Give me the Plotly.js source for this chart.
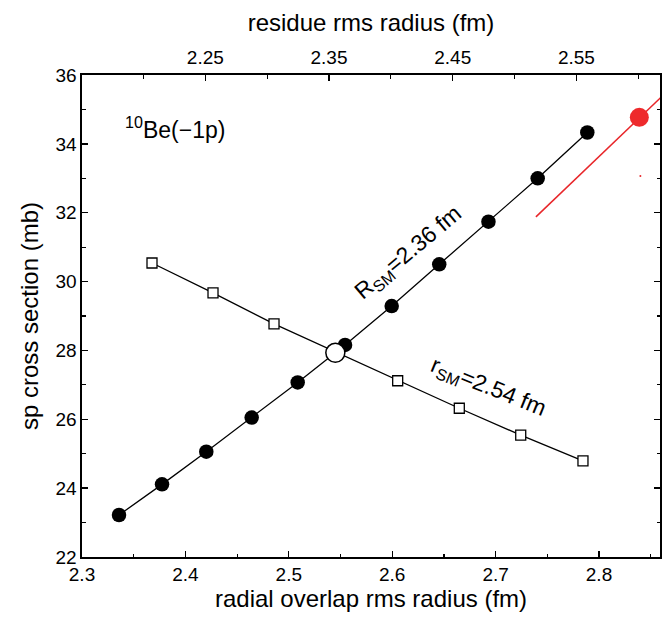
<!DOCTYPE html>
<html>
<head>
<meta charset="utf-8">
<script src="https://cdn.plot.ly/plotly-3.0.1.min.js"></script>
<style>html,body{margin:0;padding:0;background:#fff;}#chart{width:671px;height:618px;}</style>
</head>
<body>
<div id="chart"></div>
<script>
// Filled circles (R_SM series)
const rX = [2.3358, 2.3774, 2.4202, 2.4641, 2.5086, 2.5544, 2.5995, 2.6455, 2.6931, 2.7407, 2.7887];
const rY = [23.22, 24.11, 25.06, 26.05, 27.07, 28.16, 29.29, 30.50, 31.74, 33.00, 34.33];
// Open squares (r_SM series)
const sX = [2.3677, 2.4267, 2.4857, 2.6053, 2.6649, 2.7243, 2.7845];
const sY = [30.54, 29.67, 28.77, 27.12, 26.32, 25.54, 24.79];
// Crossing point
const cX = [2.545];
const cY = [27.93];
// Red point and red line
const redX = [2.839];
const redY = [34.77];
const redLineX = [2.739, 2.87];
const redLineY = [31.88, 35.64];
const redDotX = [2.840];
const redDotY = [33.07];
// Axis ticks
const yTicks = [22, 24, 26, 28, 30, 32, 34, 36];
const xTicks = [2.3, 2.4, 2.5, 2.6, 2.7, 2.8];
const topTicks = [2.25, 2.35, 2.45, 2.55];

const FONT = 'Liberation Sans, Arial, Helvetica, sans-serif';
const data = [
  {x: rX, y: rY, mode: 'lines+markers', type: 'scatter',
   line: {color: '#000', width: 1.3},
   marker: {symbol: 'circle', size: 14.5, color: '#000'}},
  {x: sX, y: sY, mode: 'lines+markers', type: 'scatter',
   line: {color: '#000', width: 1.3},
   marker: {symbol: 'square', size: 10, color: '#fff', line: {color: '#000', width: 1.3}}},
  {x: cX, y: cY, mode: 'markers', type: 'scatter',
   marker: {symbol: 'circle', size: 19, color: '#fff', line: {color: '#000', width: 1.5}}},
  {x: redLineX, y: redLineY, mode: 'lines', type: 'scatter',
   line: {color: '#e8262a', width: 1.5}},
  {x: redX, y: redY, mode: 'markers', type: 'scatter',
   marker: {symbol: 'circle', size: 19, color: '#ee2a2c'}},
  {x: redDotX, y: redDotY, mode: 'markers', type: 'scatter',
   marker: {symbol: 'circle', size: 2, color: '#e8262a'}},
  {x: [2.4], y: [22], xaxis: 'x2', mode: 'markers', type: 'scatter',
   marker: {size: 1, opacity: 0}, hoverinfo: 'skip'}
];

const layout = {
  width: 671, height: 618,
  margin: {l: 82, r: 11, t: 75, b: 61},
  paper_bgcolor: '#fff', plot_bgcolor: '#fff',
  showlegend: false,
  font: {family: FONT, color: '#000', size: 19},
  xaxis: {
    range: [2.3, 2.859], tickvals: xTicks, ticktext: xTicks.map(v => v.toFixed(1)),
    ticks: 'inside', ticklen: 6, tickwidth: 1.3, tickcolor: '#000',
    minor: {dtick: 0.05, tick0: 2.3, ticks: 'inside', ticklen: 3.5, tickwidth: 1.2, tickcolor: '#000'},
    showline: true, linecolor: '#000', linewidth: 1.6, mirror: false,
    showgrid: false, zeroline: false,
    tickfont: {size: 19}, ticklabelstandoff: 0,
    title: {text: 'radial overlap rms radius (fm)', font: {size: 24}, standoff: 6}
  },
  xaxis2: {
    overlaying: 'x', side: 'top', range: [2.1503, 2.6176],
    tickvals: topTicks, ticktext: topTicks.map(v => v.toFixed(2)),
    ticks: 'inside', ticklen: 6, tickwidth: 1.3, tickcolor: '#000',
    minor: {dtick: 0.05, tick0: 2.2, ticks: 'inside', ticklen: 3.5, tickwidth: 1.2, tickcolor: '#000'},
    showline: true, linecolor: '#000', linewidth: 1.6,
    showgrid: false, zeroline: false,
    tickfont: {size: 19}, ticklabelstandoff: 2,
    title: {text: 'residue rms radius (fm)', font: {size: 24}, standoff: 8}
  },
  yaxis: {
    range: [22, 36], tickvals: yTicks,
    ticks: 'inside', ticklen: 6, tickwidth: 1.3, tickcolor: '#000',
    minor: {dtick: 1, ticks: 'inside', ticklen: 3.5, tickwidth: 1.2, tickcolor: '#000'},
    showline: true, linecolor: '#000', linewidth: 1.6, mirror: 'ticks',
    showgrid: false, zeroline: false,
    tickfont: {size: 19},
    title: {text: 'sp cross section (mb)', font: {size: 24}, standoff: 10}
  },
  annotations: [
    {x: 2.6153, y: 30.83, xref: 'x', yref: 'y', text: 'R<sub>SM</sub>=2.36 fm',
     showarrow: false, textangle: -40, font: {size: 23, family: FONT}},
    {x: 2.6926, y: 26.91, xref: 'x', yref: 'y', text: 'r<sub>SM</sub>=2.54 fm',
     showarrow: false, textangle: 22, font: {size: 23, family: FONT}},
    {x: 2.39, y: 34.45, xref: 'x', yref: 'y', text: '<sup>10</sup>Be(\u22121p)',
     showarrow: false, font: {size: 23, family: FONT}}
  ]
};

Plotly.newPlot('chart', data, layout, {displayModeBar: false, staticPlot: true});
</script>
</body>
</html>
